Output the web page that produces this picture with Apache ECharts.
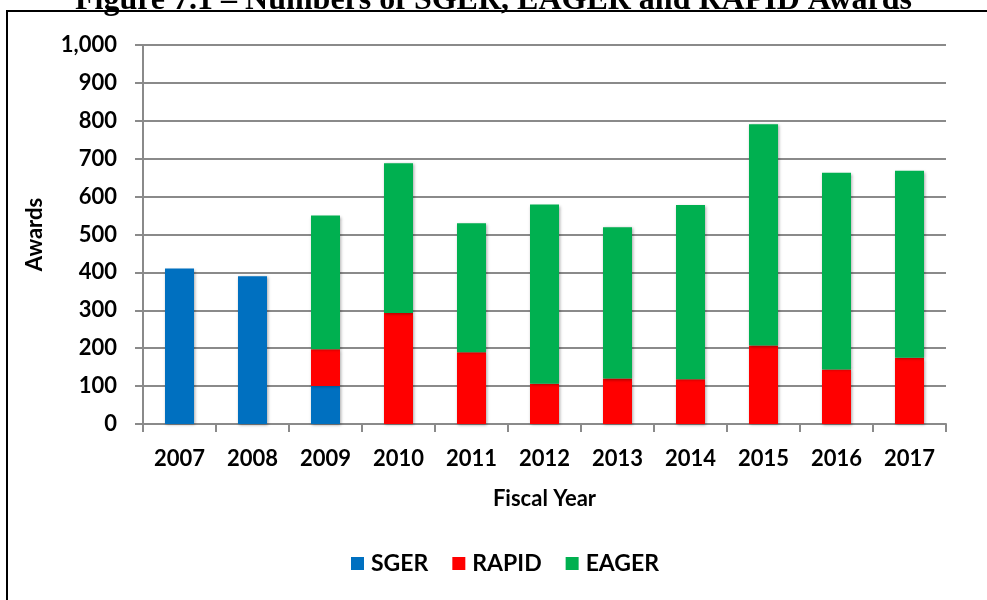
<!DOCTYPE html>
<html lang="en">

<head>
    <meta charset="UTF-8">
    <title>Figure 7.1</title>
    <script src="https://cdn.jsdelivr.net/npm/echarts@6/dist/echarts.min.js"></script>
    <style>
        * {
            margin: 0;
            padding: 0;
        }

        #main {
            width: 987px;
            height: 600px;
            background-color: #fff;
        }
    </style>
</head>

<body>
    <div id="main"></div>
    <script>
        // values
        var years = ['2007', '2008', '2009', '2010', '2011', '2012', '2013', '2014', '2015', '2016', '2017'];
        var sger = [410, 390, 100, null, null, null, null, null, null, null, null];
        var rapid = [null, null, 97, 293, 189, 106, 120, 118, 207, 144, 175];
        var eager = [null, null, 353, 395, 341, 473, 399, 460, 584, 519, 493];
        var yTicks = [0, 1000, 100]; // min, max, interval

        var chartDom = document.getElementById('main');
        var myChart = echarts.init(chartDom);
        var font = 'Lato';

        function barSeries(name, data, color) {
            return {
                name: name,
                type: 'bar',
                stack: 'awards',
                barWidth: 29,
                data: data,
                itemStyle: {
                    color: color,
                    shadowColor: 'rgba(0, 0, 0, 0.35)',
                    shadowBlur: 3,
                    shadowOffsetX: 1,
                    shadowOffsetY: 1
                }
            };
        }

        var labelStyle = { fontFamily: font, fontWeight: 'bold', fontSize: 22, color: '#000' };

        var option = {
            backgroundColor: '#fff',
            animation: false,
            textStyle: { fontFamily: font },
            graphic: [
                {
                    // outer frame
                    type: 'rect',
                    shape: { x: 7, y: 11, width: 1000, height: 620 },
                    style: { fill: 'none', stroke: '#000', lineWidth: 2 }
                },
                {
                    type: 'text',
                    left: 'center',
                    top: -15,
                    style: {
                        text: 'Figure 7.1 – Numbers of SGER, EAGER and RAPID Awards',
                        font: 'bold 32px "Liberation Serif", "Times New Roman", serif',
                        fill: '#000'
                    }
                }
            ],
            grid: {
                left: 143,
                right: 41,
                top: 45,
                bottom: 176
            },
            legend: {
                bottom: 20,
                left: 346,
                itemWidth: 13,
                itemHeight: 13,
                itemGap: 24,
                icon: 'rect',
                textStyle: { fontFamily: font, fontWeight: 'bold', fontSize: 23, color: '#000', padding: [0, 0, 0, 2] },
                data: ['SGER', 'RAPID', 'EAGER']
            },
            xAxis: {
                type: 'category',
                data: years,
                name: 'Fiscal Year',
                nameLocation: 'middle',
                nameGap: 64,
                nameTextStyle: labelStyle,
                axisLine: { lineStyle: { color: '#8a8a8a', width: 2 } },
                axisTick: { show: true, length: 8, lineStyle: { color: '#8a8a8a', width: 2 } },
                axisLabel: Object.assign({ margin: 24 }, labelStyle)
            },
            yAxis: {
                type: 'value',
                min: yTicks[0],
                max: yTicks[1],
                interval: yTicks[2],
                name: 'Awards',
                nameLocation: 'middle',
                nameGap: 97,
                nameTextStyle: labelStyle,
                axisLine: { show: true, lineStyle: { color: '#8a8a8a', width: 2 } },
                axisTick: { show: true, length: 8, lineStyle: { color: '#8a8a8a', width: 2 } },
                splitLine: { lineStyle: { color: '#8a8a8a', width: 2 } },
                axisLabel: Object.assign({
                    margin: 26,
                    formatter: function (v) {
                        return v.toLocaleString('en-US');
                    }
                }, labelStyle)
            },
            series: [
                barSeries('SGER', sger, '#0070C0'),
                barSeries('RAPID', rapid, '#FF0000'),
                barSeries('EAGER', eager, '#00B050')
            ]
        };

        option && myChart.setOption(option);
    </script>
</body>

</html>
